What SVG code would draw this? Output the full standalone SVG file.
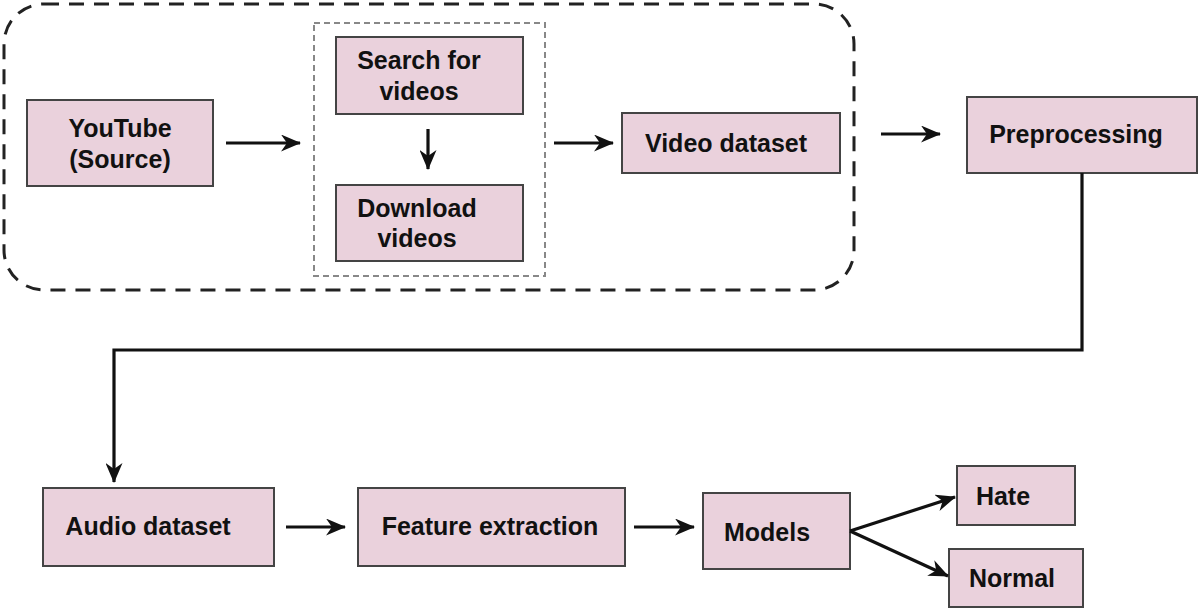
<svg xmlns="http://www.w3.org/2000/svg" width="1200" height="611" viewBox="0 0 1200 611">
<style>
.box{fill:#ead1dc;stroke:#444;stroke-width:2}
.lbl{font-family:"Liberation Sans",Arial,sans-serif;font-weight:bold;font-size:25px;fill:#111;text-anchor:middle}
.conn{fill:none;stroke:#111;stroke-width:3.2}
</style>
<defs>
<marker id="ah" viewBox="0 0 20 17" refX="19" refY="8.5" markerWidth="20" markerHeight="17" markerUnits="userSpaceOnUse" orient="auto">
<path d="M0,0 L20,8.5 L0,17 L6,8.5 Z" fill="#111"/>
</marker>
</defs>
<rect id="group-outer" x="4" y="4" width="850" height="286" rx="40" ry="40" fill="none" stroke="#222" stroke-width="3" stroke-dasharray="15 10"/>
<rect id="group-inner" x="314" y="23" width="231" height="253" fill="none" stroke="#888" stroke-width="2" stroke-dasharray="6 4"/>
<g id="youtube"><rect class="box" x="27" y="100" width="186" height="86"/><text class="lbl" x="120" y="137">YouTube</text><text class="lbl" x="120" y="168">(Source)</text></g>
<g id="search"><rect class="box" x="336" y="37" width="187" height="77"/><text class="lbl" x="419" y="69">Search for</text><text class="lbl" x="419" y="100">videos</text></g>
<g id="download"><rect class="box" x="336" y="185" width="187" height="76"/><text class="lbl" x="417" y="217">Download</text><text class="lbl" x="417" y="247">videos</text></g>
<g id="video"><rect class="box" x="622" y="113" width="218" height="60"/><text class="lbl" x="726" y="152">Video dataset</text></g>
<g id="preprocessing"><rect class="box" x="967" y="97" width="230" height="76"/><text class="lbl" x="1076" y="143">Preprocessing</text></g>
<g id="audio"><rect class="box" x="43" y="488" width="231" height="78"/><text class="lbl" x="148" y="535">Audio dataset</text></g>
<g id="feature"><rect class="box" x="358" y="488" width="267" height="78"/><text class="lbl" x="490" y="535">Feature extraction</text></g>
<g id="models"><rect class="box" x="703" y="493" width="147" height="76"/><text class="lbl" x="767" y="541">Models</text></g>
<g id="hate"><rect class="box" x="957" y="466" width="118" height="59"/><text class="lbl" x="1003" y="505">Hate</text></g>
<g id="normal"><rect class="box" x="949" y="549" width="134" height="58"/><text class="lbl" x="1012" y="587">Normal</text></g>
<g id="connectors">
<line class="conn" x1="226" y1="143" x2="300" y2="143" marker-end="url(#ah)"/>
<line class="conn" x1="428" y1="129" x2="428" y2="169" marker-end="url(#ah)"/>
<line class="conn" x1="554" y1="143" x2="613" y2="143" marker-end="url(#ah)"/>
<line class="conn" x1="881" y1="134" x2="940" y2="134" marker-end="url(#ah)"/>
<polyline class="conn" points="1082,173 1082,350 114,350 114,482" marker-end="url(#ah)"/>
<line class="conn" x1="286" y1="527" x2="345" y2="527" marker-end="url(#ah)"/>
<line class="conn" x1="634" y1="527" x2="694" y2="527" marker-end="url(#ah)"/>
<line class="conn" x1="850" y1="531" x2="955" y2="497" marker-end="url(#ah)"/>
<line class="conn" x1="850" y1="531" x2="948" y2="576" marker-end="url(#ah)"/>
</g>
</svg>
